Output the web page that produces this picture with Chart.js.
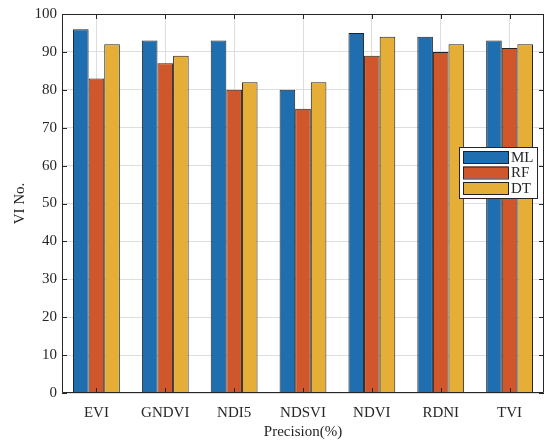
<!DOCTYPE html>
<html>
<head>
<meta charset="utf-8">
<script src="https://cdn.jsdelivr.net/npm/chart.js@4/dist/chart.umd.min.js"></script>
<style>
  html, body { margin: 0; padding: 0; background: #fff; }
  #wrap { width: 544px; height: 441px; }
</style>
</head>
<body>
<div id="wrap"><canvas id="myChart" width="544" height="441"></canvas></div>
<script>
// 資料
const categories = ['EVI', 'GNDVI', 'NDI5', 'NDSVI', 'NDVI', 'RDNI', 'TVI'];
const seriesNames = ['ML', 'RF', 'DT'];
const mlValues = [96, 93, 93, 80, 95, 94, 93];
const rfValues = [83, 87, 80, 75, 89, 90, 91];
const dtValues = [92, 89, 82, 82, 94, 92, 92];
const yTickMin = 0;
const yTickMax = 100;
const yTickStep = 10;

const barColors = ['#1f6eb0', '#d0572c', '#e5ae36'];
const axisColor = '#262626';
const fontFamily = '"Liberation Serif", "Times New Roman", serif';

// 外框、內側刻度（MATLAB 風格）
const boxPlugin = {
  id: 'boxPlugin',
  afterDatasetsDraw(chart) {
    const { ctx, chartArea: a, scales } = chart;
    const len = 5;
    ctx.save();
    ctx.strokeStyle = axisColor;
    ctx.lineWidth = 1;
    ctx.beginPath();
    ctx.rect(a.left + 0.5, a.top + 0.5, a.right - a.left - 1, a.bottom - a.top - 1);
    categories.forEach((c, i) => {
      const x = Math.round(scales.x.getPixelForTick(i)) + 0.5;
      ctx.moveTo(x, a.bottom);
      ctx.lineTo(x, a.bottom - len);
      ctx.moveTo(x, a.top);
      ctx.lineTo(x, a.top + len);
    });
    for (let v = yTickMin; v <= yTickMax; v += yTickStep) {
      const y = Math.round(scales.y.getPixelForValue(v)) + 0.5;
      ctx.moveTo(a.left, y);
      ctx.lineTo(a.left + len, y);
      ctx.moveTo(a.right, y);
      ctx.lineTo(a.right - len, y);
    }
    ctx.stroke();
    ctx.restore();
  }
};

// 圖例畫在圖內右側
const legendPlugin = {
  id: 'boxLegend',
  afterDraw(chart) {
    const { ctx, chartArea: a } = chart;
    const x0 = a.right - 85, y0 = a.top + 133;
    const w = 78, h = 51;
    ctx.save();
    ctx.fillStyle = '#fff';
    ctx.fillRect(x0, y0, w, h);
    ctx.strokeStyle = axisColor;
    ctx.lineWidth = 1;
    ctx.strokeRect(x0 + 0.5, y0 + 0.5, w, h);
    ctx.font = '15px ' + fontFamily;
    ctx.textBaseline = 'middle';
    chart.data.datasets.forEach((ds, i) => {
      const sy = y0 + 4 + i * 15.5;
      ctx.fillStyle = ds.backgroundColor;
      ctx.fillRect(x0 + 4, sy, 45, 12);
      ctx.strokeStyle = '#222';
      ctx.strokeRect(x0 + 4.5, sy + 0.5, 45, 12);
      ctx.fillStyle = axisColor;
      ctx.fillText(ds.label, x0 + 52, sy + 7);
    });
    ctx.restore();
  }
};

const datasets = [mlValues, rfValues, dtValues].map((vals, i) => ({
  label: seriesNames[i],
  data: vals,
  backgroundColor: barColors[i],
  borderColor: '#222',
  borderWidth: 1,
  borderSkipped: 'bottom',
  categoryPercentage: 0.68,
  barPercentage: 1.0
}));

new Chart(document.getElementById('myChart').getContext('2d'), {
  type: 'bar',
  data: { labels: categories, datasets: datasets },
  options: {
    responsive: false,
    animation: false,
    devicePixelRatio: 1,
    layout: { padding: { top: 13, right: 0, left: 0, bottom: 0 } },
    plugins: {
      legend: { display: false },
      tooltip: { enabled: false }
    },
    scales: {
      x: {
        afterFit: (s) => { s.height = 48; },
        grid: { offset: false, color: '#dedede', drawTicks: false },
        border: { display: false },
        ticks: { color: axisColor, padding: 11, font: { family: fontFamily, size: 15 } },
        title: {
          display: true, text: 'Precision(%)', color: axisColor,
          padding: { top: 0, bottom: 0 },
          font: { family: fontFamily, size: 15 }
        }
      },
      y: {
        min: yTickMin,
        max: yTickMax,
        afterFit: (s) => { s.width = 62; },
        grid: { color: '#dedede', drawTicks: false },
        border: { display: false },
        ticks: { stepSize: yTickStep, color: axisColor, padding: 5, font: { family: fontFamily, size: 15 } },
        title: {
          display: true, text: 'VI No.', color: axisColor,
          padding: { top: 11, bottom: 0 },
          font: { family: fontFamily, size: 15 }
        }
      }
    }
  },
  plugins: [boxPlugin, legendPlugin]
});
</script>
</body>
</html>
